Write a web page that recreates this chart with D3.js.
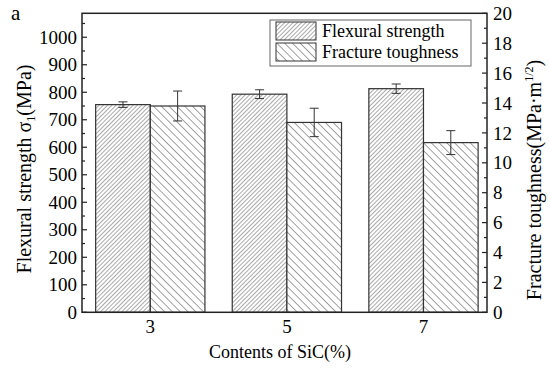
<!DOCTYPE html>
<html>
<head>
<meta charset="utf-8">
<script src="https://cdn.jsdelivr.net/npm/d3@7"></script>
<style>
	body { margin: 0; background: #fff; }
	text { font-family: "Liberation Serif", "Times New Roman", serif; fill: #000; }
</style>
</head>
<body>
<div id="chart"></div>
<script>
// data
var contents = [3, 5, 7];
var flexural = [755, 793, 813];
var flexuralErr = [10, 16, 17];
var toughness = [13.8, 12.7, 11.35];
var toughnessErr = [1.0, 0.95, 0.8];
var leftTicks = [0, 100, 200, 300, 400, 500, 600, 700, 800, 900, 1000];
var rightTicks = [0, 2, 4, 6, 8, 10, 12, 14, 16, 18, 20];
var seriesNames = ["Flexural strength", "Fracture toughness"];

var width = 550, height = 376;
var margin = { top: 13.3, right: 63, bottom: 63.7, left: 82 };

var svg = d3.select("#chart").append("svg")
	.attr("width", width)
	.attr("height", height);

var defs = svg.append("defs");

// dense "/" hatch for flexural strength
var p1 = defs.append("pattern")
	.attr("id", "hatchFlex")
	.attr("patternUnits", "userSpaceOnUse")
	.attr("width", 3)
	.attr("height", 3)
	.attr("patternTransform", "rotate(45)");
p1.append("rect").attr("width", 3).attr("height", 3).attr("fill", "#fff");
p1.append("line").attr("x1", 0).attr("y1", 0).attr("x2", 0).attr("y2", 3)
	.attr("stroke", "#555").attr("stroke-width", 1);

// wider "\" hatch for fracture toughness
var p2 = defs.append("pattern")
	.attr("id", "hatchTough")
	.attr("patternUnits", "userSpaceOnUse")
	.attr("width", 5.5)
	.attr("height", 5.5)
	.attr("patternTransform", "rotate(-45)");
p2.append("rect").attr("width", 5.5).attr("height", 5.5).attr("fill", "#fff");
p2.append("line").attr("x1", 0).attr("y1", 0).attr("x2", 0).attr("y2", 5.5)
	.attr("stroke", "#444").attr("stroke-width", 1);

var x0 = margin.left, x1 = width - margin.right;
var y0 = height - margin.bottom, y1 = margin.top;

var x = d3.scaleLinear().domain([2.0, 7.93]).range([x0, x1]);
var yL = d3.scaleLinear().domain([0, 1087]).range([y0, y1]);
var yR = d3.scaleLinear().domain([0, 20]).range([y0, y1]);
var barW = x(3.8) - x(3);

var g = svg.append("g");

// flexural bars
g.selectAll(".barFlex")
	.data(contents)
	.enter().append("rect")
	.attr("class", "barFlex")
	.attr("x", function(d) { return x(d) - barW; })
	.attr("y", function(d, i) { return yL(flexural[i]); })
	.attr("width", barW)
	.attr("height", function(d, i) { return y0 - yL(flexural[i]); })
	.attr("fill", "url(#hatchFlex)")
	.attr("stroke", "#333")
	.attr("stroke-width", 1.2);

// toughness bars
g.selectAll(".barTough")
	.data(contents)
	.enter().append("rect")
	.attr("class", "barTough")
	.attr("x", function(d) { return x(d); })
	.attr("y", function(d, i) { return yR(toughness[i]); })
	.attr("width", barW)
	.attr("height", function(d, i) { return y0 - yR(toughness[i]); })
	.attr("fill", "url(#hatchTough)")
	.attr("stroke", "#333")
	.attr("stroke-width", 1.2);

// error bars
var errorBar = function(cx, top, bottom) {
	var cap = 4.5;
	g.append("line").attr("x1", cx).attr("x2", cx).attr("y1", top).attr("y2", bottom)
		.attr("stroke", "#333").attr("stroke-width", 1);
	g.append("line").attr("x1", cx - cap).attr("x2", cx + cap).attr("y1", top).attr("y2", top)
		.attr("stroke", "#333").attr("stroke-width", 1);
	g.append("line").attr("x1", cx - cap).attr("x2", cx + cap).attr("y1", bottom).attr("y2", bottom)
		.attr("stroke", "#333").attr("stroke-width", 1);
}
for(var i = 0 ; i < contents.length ; i++)	{
	errorBar(x(contents[i]) - barW / 2, yL(flexural[i] + flexuralErr[i]), yL(flexural[i] - flexuralErr[i]));
	errorBar(x(contents[i]) + barW / 2, yR(toughness[i] + toughnessErr[i]), yR(toughness[i] - toughnessErr[i]));
}

// frame
svg.append("rect")
	.attr("x", x0).attr("y", y1)
	.attr("width", x1 - x0).attr("height", y0 - y1)
	.attr("fill", "none")
	.attr("stroke", "#222")
	.attr("stroke-width", 1.5);

// left axis (inward ticks)
var leftMinor = d3.range(50, 1087, 100);
svg.selectAll(".lmaj").data(leftTicks).enter().append("line")
	.attr("x1", x0).attr("x2", x0 + 5)
	.attr("y1", function(d) { return yL(d); }).attr("y2", function(d) { return yL(d); })
	.attr("stroke", "#222").attr("stroke-width", 1.2);
svg.selectAll(".lmin").data(leftMinor).enter().append("line")
	.attr("x1", x0).attr("x2", x0 + 3)
	.attr("y1", function(d) { return yL(d); }).attr("y2", function(d) { return yL(d); })
	.attr("stroke", "#222").attr("stroke-width", 1.2);
svg.selectAll(".ltxt").data(leftTicks).enter().append("text")
	.attr("x", x0 - 5)
	.attr("y", function(d) { return yL(d); })
	.attr("dy", "0.35em")
	.attr("text-anchor", "end")
	.style("font-size", "19px")
	.text(function(d) { return d; });

// right axis (inward ticks)
var rightMinor = d3.range(1, 20, 2);
svg.selectAll(".rmaj").data(rightTicks).enter().append("line")
	.attr("x1", x1).attr("x2", x1 - 5)
	.attr("y1", function(d) { return yR(d); }).attr("y2", function(d) { return yR(d); })
	.attr("stroke", "#222").attr("stroke-width", 1.2);
svg.selectAll(".rmin").data(rightMinor).enter().append("line")
	.attr("x1", x1).attr("x2", x1 - 3)
	.attr("y1", function(d) { return yR(d); }).attr("y2", function(d) { return yR(d); })
	.attr("stroke", "#222").attr("stroke-width", 1.2);
svg.selectAll(".rtxt").data(rightTicks).enter().append("text")
	.attr("x", x1 + 6)
	.attr("y", function(d) { return yR(d); })
	.attr("dy", "0.35em")
	.attr("text-anchor", "start")
	.style("font-size", "19px")
	.text(function(d) { return d; });

// x tick labels
svg.selectAll(".xtxt").data(contents).enter().append("text")
	.attr("x", function(d) { return x(d); })
	.attr("y", y0 + 21)
	.attr("text-anchor", "middle")
	.style("font-size", "19px")
	.text(function(d) { return d; });

// axis titles
svg.append("text")
	.attr("x", 280)
	.attr("y", 358)
	.attr("text-anchor", "middle")
	.style("font-size", "18px")
	.text("Contents of SiC(%)");

var lt = svg.append("text")
	.attr("transform", "translate(31,169) rotate(-90)")
	.attr("text-anchor", "middle")
	.style("font-size", "20px");
lt.append("tspan").text("Flexural strength σ");
lt.append("tspan").attr("dy", 4).style("font-size", "12px").text("1");
lt.append("tspan").attr("dy", -4).text("(MPa)");

var rt = svg.append("text")
	.attr("transform", "translate(541,180) rotate(-90)")
	.attr("text-anchor", "middle")
	.style("font-size", "20px");
rt.append("tspan").text("Fracture toughness(MPa·m");
rt.append("tspan").attr("dy", -8).style("font-size", "12px").text("1/2");
rt.append("tspan").attr("dy", 8).text(")");

svg.append("text")
	.attr("x", 11).attr("y", 20)
	.style("font-size", "21px")
	.text("a");

// legend
var legend = svg.append("g").attr("transform", "translate(270,20)");
legend.append("rect")
	.attr("width", 201).attr("height", 46)
	.attr("fill", "#fff").attr("stroke", "#666").attr("stroke-width", 1);
var fills = ["url(#hatchFlex)", "url(#hatchTough)"];
var item = legend.selectAll(".item").data(seriesNames).enter().append("g")
	.attr("transform", function(d, i) { return "translate(6," + (2 + i * 21) + ")"; });
item.append("rect")
	.attr("width", 40).attr("height", 18)
	.attr("fill", function(d, i) { return fills[i]; })
	.attr("stroke", "#333").attr("stroke-width", 1);
item.append("text")
	.attr("x", 46).attr("y", 15)
	.style("font-size", "18px")
	.text(function(d) { return d; });
</script>
</body>
</html>
